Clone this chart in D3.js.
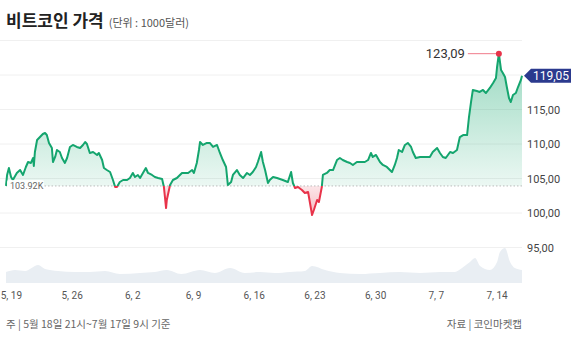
<!DOCTYPE html>
<html>
<head>
<meta charset="utf-8">
<script src="https://cdn.jsdelivr.net/npm/d3@7"></script>
<style>
  body { margin: 0; background: #fff; }
  svg { display: block; font-family: "Noto Sans CJK KR", "Noto Sans", sans-serif; }
</style>
</head>
<body>
<svg id="chart" width="576" height="345"></svg>
<script>
// 시세 (단위: 1000달러), 시각은 KST "월-일 시"
const times = [
  "05-18 21","05-19 00","05-19 05","05-19 11","05-19 16","05-20 03","05-20 12","05-20 20",
  "05-21 04","05-21 10","05-21 18","05-22 00","05-22 02","05-22 05","05-22 11","05-22 19",
  "05-23 03","05-23 09","05-23 14","05-23 20","05-24 04","05-24 07","05-24 13","05-24 18",
  "05-25 02","05-25 08","05-25 16","05-25 22","05-26 06","05-26 14","05-27 01","05-27 10",
  "05-27 18","05-28 00","05-28 05","05-28 13","05-28 22","05-29 09","05-29 14","05-29 23",
  "05-30 04","05-30 12","05-30 21","05-31 05","05-31 11","05-31 16","06-01 00","06-01 09",
  "06-01 20","06-02 04","06-02 12","06-02 18","06-03 02","06-03 08","06-03 16","06-04 00",
  "06-04 06","06-04 17","06-05 01","06-05 10","06-05 21","06-06 02","06-06 08","06-06 10",
  "06-06 19","06-07 03","06-07 14","06-08 04","06-08 12","06-08 21","06-09 08","06-09 13",
  "06-09 21","06-10 03","06-10 06","06-10 14","06-11 01","06-11 09","06-11 18","06-12 05",
  "06-12 13","06-12 21","06-13 06","06-13 11","06-13 20","06-14 01","06-14 12","06-14 20",
  "06-15 05","06-15 16","06-16 00","06-16 08","06-16 17","06-16 22","06-17 07","06-17 12",
  "06-17 18","06-18 02","06-18 07","06-18 16","06-19 03","06-19 11","06-19 19","06-20 09",
  "06-20 18","06-20 23","06-21 05","06-21 13","06-22 00","06-22 08","06-22 17","06-23 04",
  "06-23 09","06-23 18","06-23 23","06-24 07","06-24 10","06-24 21","06-25 05","06-25 14",
  "06-26 01","06-26 09","06-26 17","06-27 05","06-27 13","06-27 21","06-28 08","06-28 17",
  "06-29 06","06-29 15","06-29 23","06-30 04","06-30 13","07-01 00","07-01 08","07-01 19",
  "07-02 09","07-02 17","07-02 23","07-03 04","07-03 13","07-03 21","07-04 05","07-04 14",
  "07-04 19","07-05 03","07-05 15","07-06 04","07-06 18","07-07 02","07-07 14","07-07 22",
  "07-08 06","07-08 14","07-09 02","07-09 10","07-09 21","07-10 05","07-10 14","07-11 01",
  "07-11 06","07-11 12","07-11 17","07-12 04","07-12 12","07-12 21","07-13 05","07-13 16",
  "07-14 01","07-14 09","07-14 12","07-14 17","07-14 23","07-15 04","07-15 10","07-15 15",
  "07-15 21","07-16 02","07-16 08","07-16 16","07-16 22","07-17 06","07-17 09"
];
const prices = [
  103.92,105.51,106.52,105.22,104.78,105.80,106.23,105.51,
  106.67,107.39,107.25,107.97,106.81,108.84,110.58,111.01,
  111.45,111.59,111.30,110.15,109.42,107.39,108.12,109.13,
  108.84,107.97,107.25,107.97,109.57,109.86,109.57,109.42,
  109.86,110.29,110.00,108.70,108.84,108.41,108.70,107.68,
  106.52,106.23,105.94,104.78,103.77,103.77,104.49,104.78,
  104.78,105.07,105.80,105.22,105.51,105.07,105.80,106.52,
  105.80,105.51,105.22,105.07,104.93,103.77,100.72,101.88,
  104.06,104.78,105.07,105.80,105.80,105.80,106.23,105.80,
  107.25,109.13,110.29,109.86,110.15,110.15,109.57,109.86,
  108.70,107.68,106.67,104.06,104.49,105.51,106.23,105.51,
  105.07,105.80,105.51,105.94,106.67,107.39,108.84,107.39,
  106.23,104.35,104.78,105.22,105.07,104.93,104.78,104.49,
  105.94,104.35,103.62,103.77,103.33,102.90,103.04,99.71,
  100.43,101.88,101.59,103.77,105.51,105.80,106.23,106.23,
  107.68,107.97,107.68,107.39,107.25,106.96,107.39,107.39,
  107.39,107.68,108.70,108.12,108.41,107.39,106.96,106.67,
  105.94,106.96,107.97,109.13,108.84,109.86,110.15,109.57,
  108.84,107.97,108.12,108.12,108.12,108.84,109.42,108.70,
  108.12,107.97,108.84,108.70,109.13,111.01,111.30,111.30,
  113.77,116.09,117.83,117.68,117.54,117.83,117.39,118.12,
  118.84,119.57,121.16,123.09,120.73,120.29,119.71,118.26,
  116.67,116.09,117.10,117.39,118.26,119.28,119.90
];
// 거래량 (상대값)
const volTimes = [
  "05-18 21","05-19 22","05-21 02","05-22 14","05-23 09","05-24 21","05-26 20","05-28 13",
  "05-30 07","06-01 00","06-03 08","06-05 01","06-06 10","06-08 02","06-10 06","06-11 23",
  "06-13 17","06-15 10","06-17 04","06-18 21","06-20 15","06-22 08","06-23 04","06-24 16",
  "06-26 09","06-28 17","07-01 00","07-03 07","07-05 15","07-07 22","07-09 15","07-10 11",
  "07-11 09","07-11 23","07-12 13","07-13 16","07-14 12","07-14 20","07-15 10","07-16 00",
  "07-16 13","07-17 09"
];
const volumes = [
  11,13,12,18,14,12,11,11,
  12,9,10,11,13,9,13,10,
  15,10,11,10,11,12,17,13,
  10,9,10,11,10,11,11,15,
  21,25,17,13,21,31,35,21,
  15,13
];
const yTicks = [95, 100, 105, 110, 115];
const yGrid = [95, 100, 105, 110, 115, 120, 125];
const xTickDates = ["05-19","05-26","06-02","06-09","06-16","06-23","06-30","07-07","07-14"];
const xTickLabels = ["5, 19","5, 26","6, 2","6, 9","6, 16","6, 23","6, 30","7, 7","7, 14"];
const basePrice = 103.92;
const lastQuote = 119.05;

const parse = d3.timeParse("%Y-%m-%d %H");
const data = times.map((t, i) => ({ t: parse("2025-" + t), v: prices[i] }));
const vol = volTimes.map((t, i) => ({ t: parse("2025-" + t), v: volumes[i] }));
const comma = v => d3.format(".2f")(v).replace(".", ",");

const svg = d3.select("#chart");
const x = d3.scaleTime().domain([data[0].t, data[data.length - 1].t]).range([6, 522]);
const y = d3.scaleLinear().domain([95, 125]).range([247.5, 40.5]);
const yv = d3.scaleLinear().domain([0, 40]).range([283, 243]);
const yb = y(basePrice);

// 제목
const title = svg.append("text").attr("x", 6).attr("y", 27);
title.append("tspan").text("비트코인 가격")
  .attr("font-size", 17).attr("font-weight", 700).attr("fill", "#222");
title.append("tspan").text("(단위 : 1000달러)").attr("dx", 5)
  .attr("font-size", 11).attr("fill", "#555");

// 격자
svg.append("g").selectAll("line").data(yGrid).join("line")
  .attr("x1", 0).attr("x2", 522)
  .attr("y1", d => y(d)).attr("y2", d => y(d))
  .attr("stroke", "#f0f0f0").attr("stroke-width", 1);

// 거래량
svg.append("path").datum(vol)
  .attr("fill", "#e9eef3")
  .attr("d", d3.area().x(d => x(d.t)).y0(283).y1(d => yv(d.v)).curve(d3.curveMonotoneX));

// 그라데이션, 클립
const defs = svg.append("defs");
const gUp = defs.append("linearGradient").attr("id", "gUp")
  .attr("gradientUnits", "userSpaceOnUse").attr("x1", 0).attr("x2", 0)
  .attr("y1", y(123)).attr("y2", yb);
gUp.append("stop").attr("offset", 0).attr("stop-color", "#10a56b").attr("stop-opacity", 0.42);
gUp.append("stop").attr("offset", 1).attr("stop-color", "#10a56b").attr("stop-opacity", 0.08);
const gDn = defs.append("linearGradient").attr("id", "gDn")
  .attr("gradientUnits", "userSpaceOnUse").attr("x1", 0).attr("x2", 0)
  .attr("y1", yb).attr("y2", y(99.5));
gDn.append("stop").attr("offset", 0).attr("stop-color", "#e8334a").attr("stop-opacity", 0.12);
gDn.append("stop").attr("offset", 1).attr("stop-color", "#e8334a").attr("stop-opacity", 0.35);
defs.append("clipPath").attr("id", "cUp").append("rect")
  .attr("x", 0).attr("y", 0).attr("width", 576).attr("height", yb);
defs.append("clipPath").attr("id", "cDn").append("rect")
  .attr("x", 0).attr("y", yb).attr("width", 576).attr("height", 345 - yb);

const area = d3.area().x(d => x(d.t)).y0(yb).y1(d => y(d.v));
const line = d3.line().x(d => x(d.t)).y(d => y(d.v));

svg.append("path").datum(data).attr("d", area).attr("fill", "url(#gUp)").attr("clip-path", "url(#cUp)");
svg.append("path").datum(data).attr("d", area).attr("fill", "url(#gDn)").attr("clip-path", "url(#cDn)");

// 기준선
svg.append("line").attr("x1", 6).attr("x2", 522).attr("y1", yb).attr("y2", yb)
  .attr("stroke", "#bbb").attr("stroke-dasharray", "1.5,2");

svg.append("path").datum(data).attr("d", line).attr("fill", "none")
  .attr("stroke", "#14a56e").attr("stroke-width", 2).attr("stroke-linejoin", "round")
  .attr("clip-path", "url(#cUp)");
svg.append("path").datum(data).attr("d", line).attr("fill", "none")
  .attr("stroke", "#e8334a").attr("stroke-width", 2).attr("stroke-linejoin", "round")
  .attr("clip-path", "url(#cDn)");

// 기준가 라벨
svg.append("rect").attr("x", 7).attr("y", yb - 6).attr("width", 37).attr("height", 12)
  .attr("rx", 2).attr("fill", "#fff").attr("fill-opacity", 0.9);
svg.append("text").attr("x", 10).attr("y", yb + 3.5)
  .attr("font-size", 9).attr("fill", "#666").attr("font-family", "Roboto, sans-serif")
  .text(basePrice.toFixed(2) + "K");

// y축 라벨
svg.append("g").selectAll("text").data(yTicks).join("text")
  .attr("x", 527).attr("y", d => y(d) + 4)
  .attr("font-size", 11).attr("fill", "#444").attr("font-family", "Roboto, sans-serif")
  .text(d => comma(d));

// x축 라벨
svg.append("g").selectAll("text").data(xTickDates).join("text")
  .attr("x", d => x(parse("2025-" + d + " 12")))
  .attr("y", 299).attr("text-anchor", "middle")
  .attr("font-size", 10).attr("fill", "#555").attr("font-family", "Roboto, sans-serif")
  .text((d, i) => xTickLabels[i]);

// 최고가
const peak = data.reduce((a, b) => (b.v > a.v ? b : a));
const px = x(peak.t), py = y(peak.v);
svg.append("line").attr("x1", px - 31).attr("x2", px).attr("y1", py).attr("y2", py)
  .attr("stroke", "#f07b8a").attr("stroke-width", 1);
svg.append("circle").attr("cx", px).attr("cy", py).attr("r", 3).attr("fill", "#e8334a");
svg.append("text").attr("x", px - 34).attr("y", py + 4.5).attr("text-anchor", "end")
  .attr("font-size", 13).attr("fill", "#333").attr("font-family", "Roboto, sans-serif")
  .text(comma(peak.v));

// 현재가
const last = data[data.length - 1];
const lx = x(last.t) + 2, ly = y(last.v);
svg.append("path")
  .attr("d", `M${lx},${ly} L${lx + 7},${ly - 7} L${lx + 47},${ly - 7} L${lx + 47},${ly + 7} L${lx + 7},${ly + 7} Z`)
  .attr("fill", "#2b3a8e");
svg.append("text").attr("x", lx + 27).attr("y", ly + 4.5).attr("text-anchor", "middle")
  .attr("font-size", 12).attr("fill", "#fff").attr("font-family", "Roboto, sans-serif")
  .text(comma(lastQuote));

// 주석
svg.append("text").attr("x", 6).attr("y", 328).attr("font-size", 10.5).attr("fill", "#666")
  .text("주 | 5월 18일 21시~7월 17일 9시 기준");
svg.append("text").attr("x", 522).attr("y", 328).attr("text-anchor", "end")
  .attr("font-size", 10.5).attr("fill", "#666")
  .text("자료 | 코인마켓캡");
</script>
</body>
</html>
